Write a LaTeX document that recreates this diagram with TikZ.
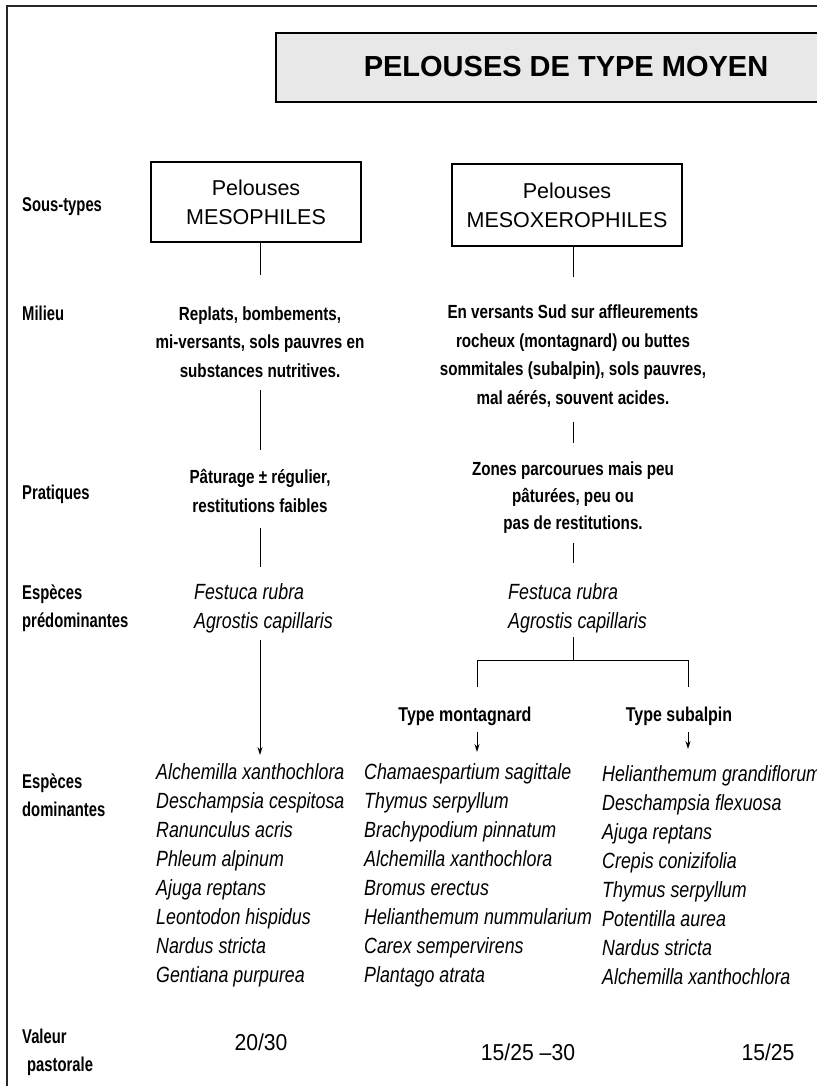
\documentclass[tikz,border=0pt]{standalone}
\usepackage{fontspec}
\setmainfont{Liberation Sans}
\newfontfamily\cnd{Liberation Sans}[FakeStretch=0.8]
\newfontfamily\cnt{Liberation Sans}[FakeStretch=0.74]
\newfontfamily\cni{Liberation Sans}[FakeStretch=0.81]
\newfontfamily\cnv{Liberation Sans}[FakeStretch=0.92]
\usetikzlibrary{arrows.meta}
\tikzset{
  lbl/.style={anchor=west, align=left, inner sep=0pt, font=\cnt\bfseries\fontsize{20}{28}\selectfont},
  mtxt/.style={align=center, inner sep=0pt, font=\cnd\bfseries\fontsize{19}{28.5}\selectfont},
  spec/.style={anchor=west, align=left, inner sep=0pt, font=\cni\itshape\fontsize{22}{29}\selectfont},
  typ/.style={inner sep=0pt, font=\cnd\bfseries\fontsize{20}{22}\selectfont},
  val/.style={inner sep=0pt, font=\cnv\fontsize{23}{24}\selectfont},
  sbox/.style={draw, line width=1.6pt, align=center, inner sep=0pt, font=\fontsize{21.5}{29}\selectfont},
  conn/.style={line width=0.9pt},
  arr/.style={conn, -{Stealth[length=8pt,width=5pt]}},
  frame/.style={line width=2pt, draw=black!85}
}
\begin{document}
\begin{tikzpicture}[x=1pt,y=-1pt]
\useasboundingbox (0,0) rectangle (816,1086);
% outer frame
\coordinate (fTL) at (7,6);
\coordinate (fTR) at (830,6);
\coordinate (fBL) at (7,1095);
\draw[frame] (fTR) -- (fTL) -- (fBL);
% title
\draw[line width=2.4pt, fill=black!9] (276,33) rectangle (840,102);
\node[inner sep=0pt, font=\bfseries\fontsize{29}{32}\selectfont] (title) at (566,67) {PELOUSES DE TYPE MOYEN};

% row labels
\node[lbl] (lsous) at (22,207) {Sous-types};
\node[lbl] (lmil) at (22,313) {Milieu};
\node[lbl] (lprat) at (22,494) {Pratiques};
\node[lbl] (lpred) at (22,608) {Espèces\\prédominantes};
\node[lbl] (ldom) at (22,795) {Espèces\\dominantes};
\node[lbl] (lval) at (22,1052) {Valeur\\\hspace*{5pt}pastorale};

% sous-types boxes
\node[sbox, minimum width=210pt, minimum height=80pt] (box1) at (256,202) {Pelouses\\MESOPHILES};
\node[sbox, minimum width=230pt, minimum height=82pt] (box2) at (567,205) {Pelouses\\MESOXEROPHILES};

% column 1
\coordinate (c1a) at (260,275);
\node[mtxt] (mil1) at (260,342) {Replats, bombements,\\mi-versants, sols pauvres en\\substances nutritives.};
\coordinate (c1b) at (260,390);
\coordinate (c1c) at (260,450);
\node[mtxt] (prat1) at (260,491) {Pâturage ± régulier,\\restitutions faibles};
\coordinate (c1d) at (260,528);
\coordinate (c1e) at (260,567);
\node[spec] (pred1) at (194,608) {Festuca rubra\\Agrostis capillaris};
\coordinate (c1f) at (260,640);
\coordinate (c1g) at (260,755);
\node[spec] (dom1) at (156,875) {Alchemilla xanthochlora\\Deschampsia cespitosa\\Ranunculus acris\\Phleum alpinum\\Ajuga reptans\\Leontodon hispidus\\Nardus stricta\\Gentiana purpurea};
\node[val] (v1) at (261,1042) {20/30};

\draw[conn] (box1.south -| c1a) -- (c1a);
\draw[conn] (c1b) -- (c1c);
\draw[conn] (c1d) -- (c1e);
\draw[arr] (c1f) -- (c1g);

% column 2
\coordinate (c2a) at (573,277);
\node[mtxt] (mil2) at (573,356) {En versants Sud sur affleurements\\rocheux (montagnard) ou buttes\\sommitales (subalpin), sols pauvres,\\mal aérés, souvent acides.};
\coordinate (c2b) at (573,422);
\coordinate (c2c) at (573,443);
\node[mtxt, font=\cnd\bfseries\fontsize{19}{27}\selectfont] (prat2) at (573,498) {Zones parcourues mais peu\\pâturées, peu ou\\pas de restitutions.};
\coordinate (c2d) at (573,543);
\coordinate (c2e) at (573,563);
\node[spec] (pred2) at (508,608) {Festuca rubra\\Agrostis capillaris};
\coordinate (c2f) at (573,637);
\coordinate (c2g) at (573,660);
\coordinate (hL) at (477,660);
\coordinate (hR) at (688,660);
\coordinate (dL) at (477,687);
\coordinate (dR) at (688,687);
\node[typ] (tmont) at (465,716) {Type montagnard};
\node[typ] (tsub) at (679,716) {Type subalpin};
\coordinate (aL1) at (477,732);
\coordinate (aL2) at (477,752);
\coordinate (aR1) at (688,732);
\coordinate (aR2) at (688,749);
\node[spec] (dom2) at (364,875) {Chamaespartium sagittale\\Thymus serpyllum\\Brachypodium pinnatum\\Alchemilla xanthochlora\\Bromus erectus\\Helianthemum nummularium\\Carex sempervirens\\Plantago atrata};
\node[spec] (dom3) at (602,875) {Helianthemum grandiflorum\\Deschampsia flexuosa\\Ajuga reptans\\Crepis conizifolia\\Thymus serpyllum\\Potentilla aurea\\Nardus stricta\\Alchemilla xanthochlora};
\node[val] (v2) at (528,1052) {15/25 –30};
\node[val] (v3) at (768,1052) {15/25};

\draw[conn] (box2.south -| c2a) -- (c2a);
\draw[conn] (c2b) -- (c2c);
\draw[conn] (c2d) -- (c2e);
\draw[conn] (c2f) -- (c2g);
\draw[conn] (hL) -- (hR);
\draw[conn] (hL) -- (dL);
\draw[conn] (hR) -- (dR);
\draw[arr] (aL1) -- (aL2);
\draw[arr] (aR1) -- (aR2);
\end{tikzpicture}
\end{document}
